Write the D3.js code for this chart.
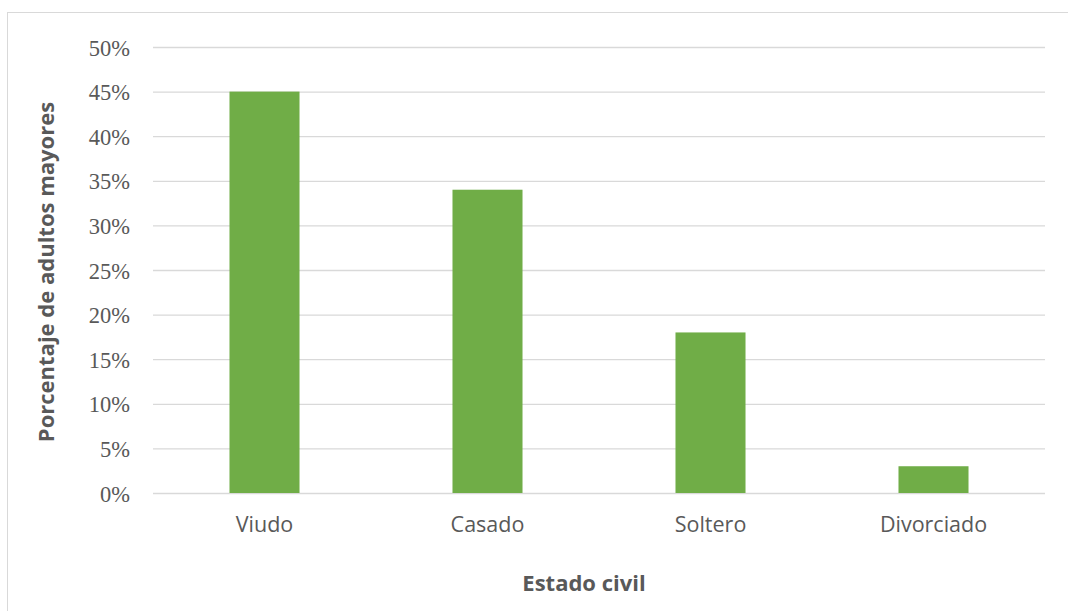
<!DOCTYPE html>
<html>
<head>
<meta charset="utf-8">
<script src="https://cdn.jsdelivr.net/npm/d3@7"></script>
<style>
  html, body { margin: 0; padding: 0; background: #fff; }
  svg { display: block; }
</style>
</head>
<body>
<svg id="chart" width="1068" height="611"></svg>
<script>
// Estado civil de los adultos mayores (porcentaje)
const categories = ["Viudo", "Casado", "Soltero", "Divorciado"];
const values = [0.45, 0.34, 0.18, 0.03];
const yTicks = [0, 0.05, 0.10, 0.15, 0.20, 0.25, 0.30, 0.35, 0.40, 0.45, 0.50];

const svg = d3.select("#chart");
const W = 1068, H = 611;
const plot = { left: 153, right: 1045, top: 47, bottom: 493 };
const sans = "'Open Sans', sans-serif";

// chart frame
svg.append("rect")
  .attr("x", 7.5).attr("y", 12.5)
  .attr("width", W + 20).attr("height", H + 20)
  .attr("fill", "#fff").attr("stroke", "#d9d9d9").attr("stroke-width", 1);

const x = d3.scaleBand().domain(categories).range([plot.left, plot.right]).padding(0);
const y = d3.scaleLinear().domain([0, 0.5]).range([plot.bottom, plot.top]);

// horizontal gridlines + y tick labels
const yAxis = d3.axisLeft(y)
  .tickValues(yTicks)
  .tickSize(-(plot.right - plot.left))
  .tickPadding(23)
  .tickFormat(d3.format(".0%"));

const gy = svg.append("g")
  .attr("transform", `translate(${plot.left},0)`)
  .call(yAxis);
gy.select(".domain").remove();
gy.selectAll(".tick line").attr("stroke", "#d9d9d9").attr("stroke-width", 1.3);
gy.selectAll(".tick text")
  .attr("fill", "#595959")
  .style("font-family", "'Liberation Serif', 'Times New Roman', serif")
  .style("font-size", "22.5px")
  .attr("dy", "0.36em");

// bars
const barW = x.bandwidth() * 0.314;
svg.append("g").selectAll("rect")
  .data(values)
  .join("rect")
  .attr("x", (d, i) => x(categories[i]) + (x.bandwidth() - barW) / 2)
  .attr("y", d => y(d))
  .attr("width", barW)
  .attr("height", d => y(0) - y(d))
  .attr("fill", "#70ad47");

// x axis labels
const xAxis = d3.axisBottom(x).tickSize(0).tickPadding(24);
const gx = svg.append("g")
  .attr("transform", `translate(0,${plot.bottom})`)
  .call(xAxis);
gx.select(".domain").remove();
gx.selectAll(".tick text")
  .attr("fill", "#595959")
  .style("font-family", sans)
  .style("font-size", "21.5px");

// axis titles
svg.append("text")
  .attr("x", 584)
  .attr("y", 591)
  .attr("text-anchor", "middle")
  .attr("fill", "#595959")
  .style("font-family", sans)
  .style("font-weight", "bold")
  .style("font-size", "22px")
  .text("Estado civil");

svg.append("text")
  .attr("transform", "translate(54,272) rotate(-90)")
  .attr("text-anchor", "middle")
  .attr("fill", "#595959")
  .style("font-family", sans)
  .style("font-weight", "bold")
  .style("font-size", "22px")
  .text("Porcentaje de adultos mayores");
</script>
</body>
</html>
